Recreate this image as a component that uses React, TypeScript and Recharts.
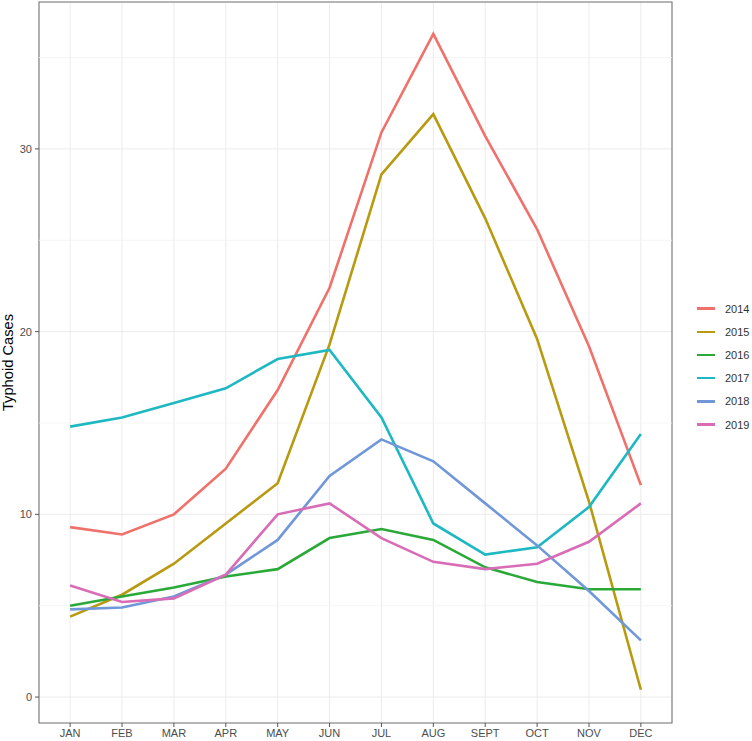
import { LineChart, Line, XAxis, YAxis, CartesianGrid, ReferenceLine, ReferenceArea } from 'recharts'

// Monthly typhoid cases, one array per year
const MONTHS = ['JAN', 'FEB', 'MAR', 'APR', 'MAY', 'JUN', 'JUL', 'AUG', 'SEPT', 'OCT', 'NOV', 'DEC']
const Y2014 = [9.3, 8.9, 10.0, 12.5, 16.8, 22.4, 30.9, 36.3, 30.7, 25.6, 19.2, 11.6]
const Y2015 = [4.4, 5.6, 7.3, 9.5, 11.7, 19.3, 28.6, 31.9, 26.2, 19.6, 10.7, 0.4]
const Y2016 = [5.0, 5.5, 6.0, 6.6, 7.0, 8.7, 9.2, 8.6, 7.1, 6.3, 5.9, 5.9]
const Y2017 = [14.8, 15.3, 16.1, 16.9, 18.5, 19.0, 15.3, 9.5, 7.8, 8.2, 10.4, 14.4]
const Y2018 = [4.8, 4.9, 5.5, 6.7, 8.6, 12.1, 14.1, 12.9, 10.6, 8.3, 5.8, 3.1]
const Y2019 = [6.1, 5.2, 5.4, 6.7, 10.0, 10.6, 8.7, 7.4, 7.0, 7.3, 8.5, 10.6]
const Y_TICKS = [0, 10, 20, 30]
const Y_MINOR = [5, 15, 25, 35]

const SERIES = [
  { key: 'y2014', name: '2014', values: Y2014, color: '#F0716A' },
  { key: 'y2015', name: '2015', values: Y2015, color: '#B89A10' },
  { key: 'y2016', name: '2016', values: Y2016, color: '#2AA838' },
  { key: 'y2017', name: '2017', values: Y2017, color: '#1DB8C2' },
  { key: 'y2018', name: '2018', values: Y2018, color: '#7097D8' },
  { key: 'y2019', name: '2019', values: Y2019, color: '#D86CB6' },
]

const data = MONTHS.map((m, i) => {
  const row: Record<string, number | string> = { idx: i, month: m }
  SERIES.forEach(s => { row[s.key] = s.values[i] })
  return row
})

const FONT = '"Liberation Sans", Arial, sans-serif'
const Y_DOMAIN: [number, number] = [-1.42, 38.04]
const X_DOMAIN: [number, number] = [-0.6, 11.6]

// legenda estilo ggplot, fora do svg
function YearLegend() {
  return (
    <div style={{ position: 'absolute', left: 697, top: 297, fontFamily: FONT, fontSize: 11, color: '#333' }}>
      {SERIES.map(s => (
        <div key={s.key} style={{ display: 'flex', alignItems: 'center', height: 23.2 }}>
          <span style={{ width: 18, height: 2.5, background: s.color, display: 'inline-block', marginRight: 10 }} />
          {s.name}
        </div>
      ))}
    </div>
  )
}

export default function App() {
  return (
    <div style={{ position: 'absolute', left: 0, top: 0, width: 752, height: 741, background: '#fff' }}>
      <LineChart
        width={752}
        height={741}
        data={data}
        margin={{ top: 2, right: 80, left: 0, bottom: 0 }}
        style={{ fontFamily: FONT }}
      >
        {Y_MINOR.map(v => (
          <ReferenceLine key={v} y={v} stroke="#F3F3F3" strokeWidth={0.8} />
        ))}
        <CartesianGrid stroke="#EBEBEB" strokeWidth={1} />

        <XAxis
          dataKey="idx"
          type="number"
          domain={X_DOMAIN}
          ticks={MONTHS.map((_, i) => i)}
          tickFormatter={(v: number) => MONTHS[v] ?? ''}
          allowDataOverflow
          height={18}
          tickSize={4}
          tickMargin={2}
          tick={{ fill: '#4D4D4D', fontSize: 11, fontFamily: FONT }}
          tickLine={{ stroke: '#555' }}
          axisLine={false}
        />
        <YAxis
          type="number"
          domain={Y_DOMAIN}
          ticks={Y_TICKS}
          allowDataOverflow
          width={39}
          tickSize={4}
          tickMargin={3}
          tick={{ fill: '#4D4D4D', fontSize: 11, fontFamily: FONT }}
          tickLine={{ stroke: '#555' }}
          axisLine={false}
          label={{
            value: 'Typhoid Cases',
            angle: -90,
            position: 'insideLeft',
            offset: 8,
            style: { textAnchor: 'middle', fill: '#000', fontSize: 14.7, fontFamily: FONT },
          }}
        />

        {SERIES.map(s => (
          <Line
            key={s.key}
            dataKey={s.key}
            name={s.name}
            type="linear"
            stroke={s.color}
            strokeWidth={2.6}
            dot={false}
            activeDot={false}
            isAnimationActive={false}
          />
        ))}

        <ReferenceArea
          x1={X_DOMAIN[0]}
          x2={X_DOMAIN[1]}
          y1={Y_DOMAIN[0]}
          y2={Y_DOMAIN[1]}
          fill="none"
          fillOpacity={0}
          stroke="#777"
          strokeWidth={1.1}
          ifOverflow="visible"
        />
      </LineChart>
      <YearLegend />
    </div>
  )
}
